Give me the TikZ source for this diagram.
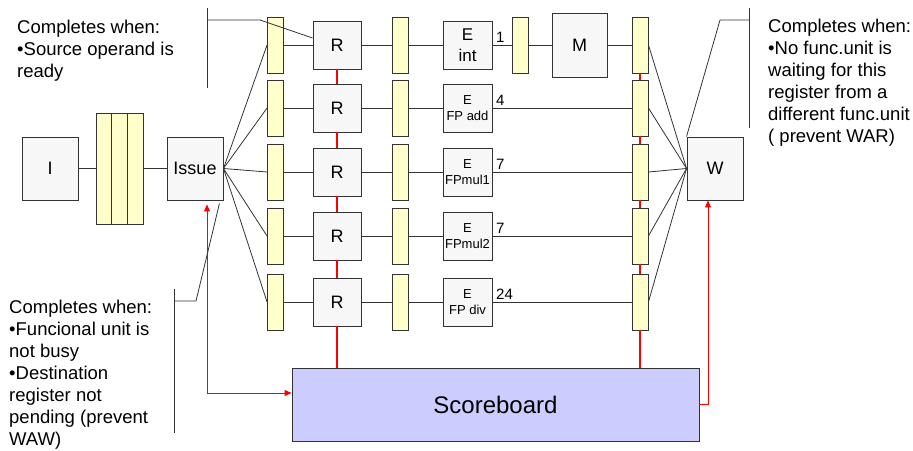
\documentclass[tikz,border=0pt]{standalone}
\usepackage{fontspec}
\setmainfont{Liberation Sans}
\usetikzlibrary{arrows.meta}
\definecolor{boxgray}{HTML}{F7F7F7}
\definecolor{regyellow}{HTML}{FFFFCC}
\definecolor{sbblue}{HTML}{CCCCFF}
\definecolor{linegray}{HTML}{333333}
\definecolor{linkred}{HTML}{FF0000}
\begin{document}
\begin{tikzpicture}[x=1pt,y=-1pt,
  box/.style={draw=linegray, fill=boxgray, line width=0.9pt, inner sep=0pt, align=center,
    font=\fontsize{18}{22}\selectfont},
  sbox/.style={box, minimum width=48pt, minimum height=48pt},
  ebox/.style={box, minimum width=49pt, minimum height=48pt, font=\fontsize{13}{16}\selectfont},
  bigbox/.style={box, minimum width=56pt, minimum height=63pt},
  reg/.style={draw=linegray, fill=regyellow, line width=0.9pt, inner sep=0pt,
    minimum width=16pt, minimum height=56pt},
  conn/.style={draw=linegray, line width=0.8pt},
  redline/.style={draw=linkred, line width=1.5pt},
  redarrow/.style={draw=linkred, line width=1pt, {Triangle[width=6pt,length=7pt]}-{Triangle[width=6pt,length=7pt]}},
  redarrowone/.style={draw=linkred, line width=1pt, -{Triangle[width=6pt,length=7pt]}},
  lat/.style={inner sep=0pt, anchor=base west, font=\fontsize{15}{18}\selectfont},
  note/.style={inner sep=0pt, anchor=north west, align=left, font=\fontsize{18.5}{22}\selectfont},
]
\useasboundingbox (0,0) rectangle (913,450);

% front end
\node[bigbox] (I) at (50,168.5) {I};
\node[reg, minimum width=15.67pt, minimum height=111pt] (bufA) at (103.8,168.5) {};
\node[reg, minimum width=15.67pt, minimum height=111pt] (bufB) at (119.5,168.5) {};
\node[reg, minimum width=15.67pt, minimum height=111pt] (bufC) at (135.2,168.5) {};
\node[bigbox] (Issue) at (195,168.5) {Issue};
\draw[conn] (I.east) -- (bufA.west);
\draw[conn] (bufC.east) -- (Issue.west);

% rows
\foreach \i/\y in {1/45,2/108,3/172,4/236,5/302}{
  \node[reg] (A\i) at (275.5,\y) {};
  \node[sbox] (Rg\i) at (337,\y) {R};
  \node[reg] (B\i) at (400,\y) {};
  \node[reg] (D\i) at (640,\y) {};
  \draw[conn] (Issue.east) -- (A\i.west);
  \draw[conn] (A\i.east) -- (Rg\i.west);
  \draw[conn] (Rg\i.east) -- (B\i.west);
}
\node[box, minimum width=49pt, minimum height=48pt, font=\fontsize{17}{22}\selectfont] (E1) at (467.5,45) {E\\[-1pt]int};
\node[ebox] (E2) at (467.5,108) {E\\FP add};
\node[ebox] (E3) at (467.5,172) {E\\FPmul1};
\node[ebox] (E4) at (467.5,236) {E\\FPmul2};
\node[ebox] (E5) at (467.5,302) {E\\FP div};
\node[reg] (C1) at (520,45) {};
\node[box, minimum width=55pt, minimum height=64pt] (M) at (579.5,45) {M};
\node[bigbox] (W) at (715,168.5) {W};

\foreach \i in {1,...,5}{
  \draw[conn] (B\i.east) -- (E\i.west);
  \draw[conn] (D\i.east) -- (W.west);
}
\draw[conn] (E1.east) -- (C1.west);
\draw[conn] (C1.east) -- (M.west);
\draw[conn] (M.east) -- (D1.west);
\foreach \i in {2,...,5}{
  \draw[conn] (E\i.east) -- (D\i.west);
}

% latencies
\node[lat] (L1) at (496,42) {1};
\node[lat] (L2) at (496,105) {4};
\node[lat] (L3) at (496,169) {7};
\node[lat] (L4) at (496,233) {7};
\node[lat] (L5) at (496,299) {24};

% scoreboard
\node[draw=linegray, fill=sbblue, line width=0.9pt, minimum width=407pt, minimum height=73pt,
  inner sep=0pt, font=\fontsize{24}{28}\selectfont] (SB) at (495.5,404.5) {Scoreboard};

% red links
\draw[redline] (Rg1.south) -- (Rg2.north);
\draw[redline] (Rg2.south) -- (Rg3.north);
\draw[redline] (Rg3.south) -- (Rg4.north);
\draw[redline] (Rg4.south) -- (Rg5.north);
\draw[redline] (Rg5.south) -- (Rg5.south |- SB.north);
\draw[redline] (D1.south) -- (D2.north);
\draw[redline] (D2.south) -- (D3.north);
\draw[redline] (D3.south) -- (D4.north);
\draw[redline] (D4.south) -- (D5.north);
\draw[redline] (D5.south) -- (D5.south |- SB.north);
\draw[redarrow] ([xshift=12pt,yshift=-4pt]Issue.south) |- ([yshift=11.5pt]SB.west);
\draw[redarrowone] (SB.east) -| ([xshift=-7pt]W.south);

% callouts
\draw[conn] (207,8) -- (207,88);
\draw[conn] (207,20) -- (260,20) -- ([yshift=7pt]Rg1.west);
\draw[conn] (749,8) -- (749,128);
\draw[conn] (749,20) -- (720,20) -- (W.north west);
\draw[conn] (174,289) -- (174,433);
\draw[conn] (174,301) -- (196,301) -- ([xshift=-4pt,yshift=-3pt]Issue.south east);

\node[note] (t1) at (17,19.5) {Completes when:\\•Source operand is\\ready};
\node[note] (t2) at (768,18.5) {Completes when:\\•No func.unit is\\waiting for this\\register from a\\different func.unit\\( prevent WAR)};
\node[note] (t3) at (9,299.5) {Completes when:\\•Funcional unit is\\not busy\\•Destination\\register not\\pending (prevent\\WAW)};
\end{tikzpicture}
\end{document}
